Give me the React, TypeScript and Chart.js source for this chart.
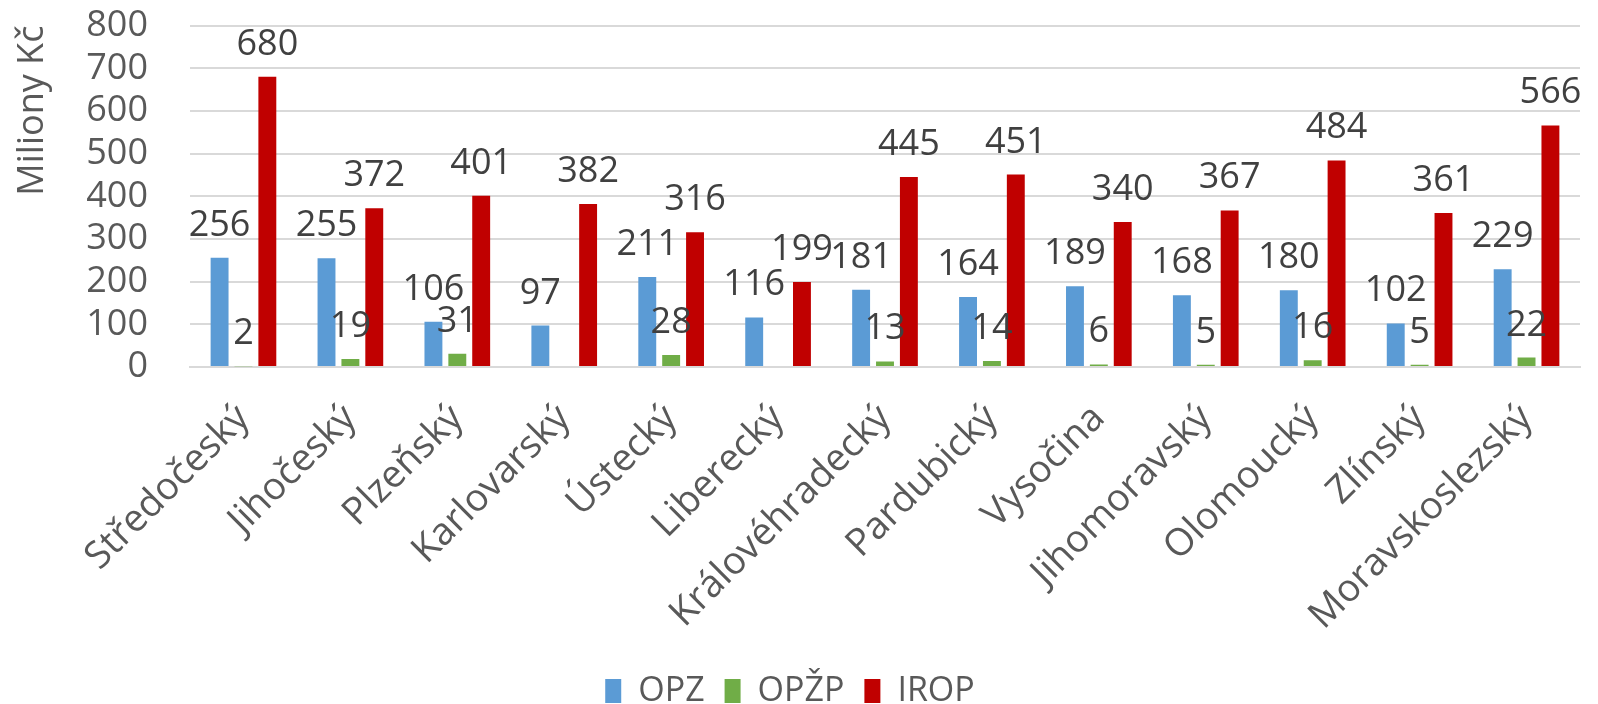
import React, { useEffect, useRef } from "react";
import { Chart, registerables } from "chart.js";

Chart.register(...registerables);

const categories = [
  "Středočeský", "Jihočeský", "Plzeňský", "Karlovarský", "Ústecký", "Liberecký",
  "Královéhradecký", "Pardubický", "Vysočina", "Jihomoravský", "Olomoucký", "Zlínský", "Moravskoslezský",
];
const opz = [256, 255, 106, 97, 211, 116, 181, 164, 189, 168, 180, 102, 229];
const opzp: (number | null)[] = [2, 19, 31, null, 28, null, 13, 14, 6, 5, 16, 5, 22];
const irop = [680, 372, 401, 382, 316, 199, 445, 451, 340, 367, 484, 361, 566];
const yTitle = "Miliony Kč";

const FONT = "'Open Sans', 'Noto Sans', sans-serif";

const valueLabels = {
  id: "valueLabels",
  afterDatasetsDraw(chart: any) {
    const ctx = chart.ctx;
    ctx.save();
    ctx.font = `36px ${FONT}`;
    ctx.fillStyle = "#404040";
    ctx.textAlign = "center";
    ctx.textBaseline = "alphabetic";
    chart.data.datasets.forEach((ds: any, i: number) => {
      const meta = chart.getDatasetMeta(i);
      meta.data.forEach((el: any, j: number) => {
        const v = ds.data[j];
        if (v === null || v === undefined) return;
        ctx.fillText(String(v), el.x, el.y - 22);
      });
    });
    ctx.restore();
  },
};

export default function App() {
  const ref = useRef<HTMLCanvasElement>(null);
  useEffect(() => {
    document.body.style.margin = "0";
    const chart = new Chart(ref.current!, {
      type: "bar",
      data: {
        labels: categories,
        datasets: [
          { label: "OPZ", data: opz, backgroundColor: "#5B9BD5" },
          { label: "OPŽP", data: opzp, backgroundColor: "#70AD47" },
          { label: "IROP", data: irop, backgroundColor: "#C00000" },
        ],
      },
      options: {
        animation: false,
        responsive: true,
        maintainAspectRatio: false,
        layout: { padding: { top: 24, right: 18, left: 0, bottom: -14 } },
        datasets: { bar: { categoryPercentage: 0.67, barPercentage: 0.75 } },
        plugins: {
          legend: {
            position: "bottom",
            labels: {
              font: { family: FONT, size: 34 },
              color: "#595959",
              boxWidth: 16,
              boxHeight: 24,
              padding: 20,
            },
          },
          tooltip: { enabled: false },
        },
        scales: {
          x: {
            afterFit: (s: any) => { s.height = 287; },
            grid: { display: false, drawTicks: false },
            border: { color: "#D9D9D9", width: 2 },
            ticks: {
              font: { family: FONT, size: 38 },
              color: "#595959",
              maxRotation: 45,
              minRotation: 45,
              autoSkip: false,
              padding: 29,
            },
          },
          y: {
            min: 0,
            max: 800,
            afterFit: (s: any) => { s.width = 190; },
            grid: { color: "#D9D9D9", lineWidth: 2, drawTicks: true, tickLength: 38, tickColor: "rgba(0,0,0,0)" },
            border: { display: false },
            ticks: {
              stepSize: 100,
              autoSkip: false,
              font: { family: FONT, size: 36 },
              color: "#595959",
              padding: 4,
            },
            title: {
              display: true,
              text: yTitle,
              align: "end",
              font: { family: FONT, size: 36 },
              color: "#595959",
              padding: { top: 11, bottom: 0 },
            },
          },
        },
      },
      plugins: [valueLabels],
    });
    return () => chart.destroy();
  }, []);
  return (
    <div style={{ width: "1598px", height: "704px", position: "relative" }}>
      <canvas ref={ref} />
    </div>
  );
}
